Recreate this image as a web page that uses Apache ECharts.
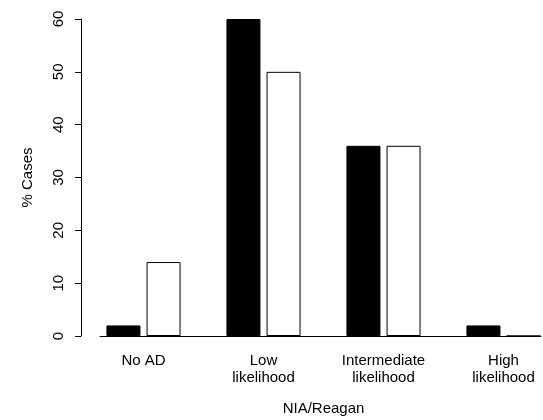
<!DOCTYPE html>
<html>
<head>
<meta charset="utf-8">
<script src="https://cdn.jsdelivr.net/npm/echarts@6/dist/echarts.min.js"></script>
<style>
  html, body { margin: 0; padding: 0; background: #fff; }
  #main { width: 543px; height: 420px; }
</style>
</head>
<body>
<div id="main"></div>
<script>
// NIA/Reagan categories and the two groups of bars (% cases)
var categories = ['No AD', 'Low\nlikelihood', 'Intermediate\nlikelihood', 'High\nlikelihood'];
var blackValues = [2, 60, 36, 2];
var whiteValues = [14, 50, 36, 0];
var yTicks = { min: 0, max: 60, interval: 10 };

var chart = echarts.init(document.getElementById('main'));
var font = 'Liberation Sans, Arial, Helvetica, sans-serif';

var option = {
  animation: false,
  backgroundColor: '#fff',
  grid: [
    // categories sit on the ticks: first group centre at left, last at right
    { left: 143.5, width: 360, top: 19, bottom: 84, outerBoundsMode: 'none' },
    // second grid only carries the baseline, like R draws it
    { left: 100, width: 441, top: 19, bottom: 84, outerBoundsMode: 'none' }
  ],
  xAxis: [
    {
      type: 'category',
      gridIndex: 0,
      boundaryGap: false,
      data: categories,
      axisLine: { show: false },
      axisTick: { show: false },
      axisLabel: {
        color: '#000', fontFamily: font, fontSize: 15,
        lineHeight: 17, margin: 16, interval: 0
      },
      name: 'NIA/Reagan',
      nameLocation: 'middle',
      nameGap: 65,
      nameTextStyle: { color: '#000', fontFamily: font, fontSize: 15 }
    },
    {
      type: 'value',
      gridIndex: 1,
      position: 'bottom',
      axisLine: { show: true, onZero: false, lineStyle: { color: '#000', width: 1 } },
      axisTick: { show: false },
      axisLabel: { show: false },
      splitLine: { show: false }
    }
  ],
  yAxis: [
    {
      type: 'value',
      gridIndex: 0,
      min: yTicks.min,
      max: yTicks.max,
      interval: yTicks.interval,
      offset: 62.5,
      axisLine: { show: true, lineStyle: { color: '#000', width: 1 } },
      axisTick: { show: true, length: 6, lineStyle: { color: '#000' } },
      axisLabel: {
        color: '#000', fontFamily: font, fontSize: 15,
        rotate: 90, margin: 15
      },
      splitLine: { show: false },
      name: '% Cases',
      nameLocation: 'middle',
      nameGap: 46,
      nameTextStyle: { color: '#000', fontFamily: font, fontSize: 15 }
    },
    { type: 'value', gridIndex: 1, show: false, min: 0, max: 60 }
  ],
  series: [
    {
      type: 'bar',
      xAxisIndex: 0, yAxisIndex: 0,
      data: blackValues,
      barWidth: 34,
      barGap: '18%',
      clip: false,
      itemStyle: { color: '#000', borderColor: '#000', borderWidth: 1 }
    },
    {
      type: 'bar',
      xAxisIndex: 0, yAxisIndex: 0,
      data: whiteValues,
      barWidth: 34,
      barGap: '18%',
      clip: false,
      itemStyle: { color: '#fff', borderColor: '#000', borderWidth: 1 }
    }
  ]
};

chart.setOption(option);
</script>
</body>
</html>
